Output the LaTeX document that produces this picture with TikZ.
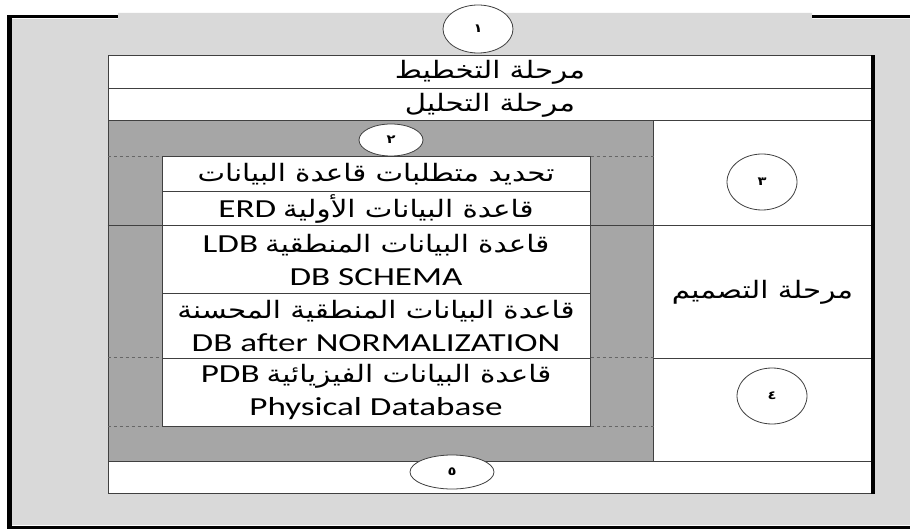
\documentclass[tikz,border=0pt]{standalone}
\usepackage{fontspec}
\usepackage{graphicx}
\newfontfamily\arabicfont[Script=Arabic]{DejaVu Sans}
\newfontfamily\latinfont{Carlito}
\TeXXeTstate=1
\usetikzlibrary{shapes.geometric,positioning}

\definecolor{pagegray}{HTML}{D9D9D9}
\definecolor{bandgray}{HTML}{A6A6A6}
\definecolor{rulegray}{HTML}{404040}

\newcommand{\arx}{1.22}
\newcommand{\latx}{1.35}
\newcommand{\artext}[1]{\scalebox{\arx}[1]{\arabicfont\beginR #1\endR}}
\newcommand{\lattext}[1]{\scalebox{\latx}[1]{\latinfont\fontsize{26}{33}\selectfont #1}}
% latin tag on the left, arabic words on the right
\newcommand{\mixtext}[2]{\lattext{#2}\hspace{7pt}\artext{#1}}

\begin{document}
\begin{tikzpicture}[x=1pt,y=-1pt]

  \tikzstyle{cell}=[draw=rulegray,fill=white,rectangle,line width=1pt,inner sep=0pt,align=center,font=\fontsize{24}{33}\selectfont]
  \tikzstyle{bandbox}=[draw=rulegray,fill=bandgray,rectangle,line width=1pt,inner sep=0pt]
  \tikzstyle{numoval}=[draw=rulegray,fill=white,ellipse,line width=0.8pt,inner sep=0pt,font=\fontsize{12}{12}\selectfont\bfseries]
  \tikzstyle{gap}=[draw=rulegray!80,dashed,line width=1pt]
  \tikzstyle{rule}=[draw=rulegray,line width=1pt]

  \useasboundingbox (0,0) rectangle (910,529);

  % page frame
  \fill[pagegray] (12,19) -- (118,19) -- (118,13) -- (812,13) -- (812,19) -- (910,19) -- (910,525) -- (12,525) -- cycle;
  \draw[black,line width=3pt] (7,17) -- (118,17);
  \draw[black,line width=3pt] (812,17) -- (910,17);
  \draw[black,line width=5pt] (9.5,15.5) -- (9.5,527);
  \draw[black,line width=3pt] (7,527) -- (910,527);

  % outer rows
  \node[cell,minimum width=764pt,minimum height=33pt] (plan) at (490,72.5) {\artext{مرحلة التخطيط}};
  \node[cell,minimum width=764pt,minimum height=32pt] (analysis) at (490,105) {\artext{مرحلة التحليل}};
  \node[bandbox,minimum width=545pt,minimum height=340pt] (band) at (380.5,291) {};
  \node[cell,minimum width=219pt,minimum height=105pt] (side3) at (762.5,173.5) {};
  \node[cell,minimum width=219pt,minimum height=132pt] (design) at (762.5,292) {\artext{مرحلة التصميم}};
  \node[cell,minimum width=219pt,minimum height=103pt] (side4) at (762.5,409.5) {};
  \node[cell,minimum width=764pt,minimum height=32pt] (impl) at (490,477) {};

  % inner steps
  \node[cell,minimum width=428pt,minimum height=35pt] (reqs) at (376,174.5) {\artext{تحديد متطلبات قاعدة البيانات}};
  \node[cell,minimum width=428pt,minimum height=34pt] (erd) at (376,209) {\mixtext{قاعدة البيانات الأولية}{ERD}};
  \node[cell,minimum width=428pt,minimum height=68pt] (ldb) at (376,260) {\mixtext{قاعدة البيانات المنطقية}{LDB}\\\lattext{DB SCHEMA}};
  \node[cell,minimum width=428pt,minimum height=64pt] (norm) at (376,326) {\artext{قاعدة البيانات المنطقية المحسنة}\\\lattext{DB after NORMALIZATION}};
  \node[cell,minimum width=428pt,minimum height=68pt] (pdb) at (376,392) {\mixtext{قاعدة البيانات الفيزيائية}{PDB}\\\lattext{Physical Database}};

  % band edges
  \draw[gap] (band.west |- reqs.north) -- (reqs.north west);
  \draw[gap] (reqs.north east) -- (band.east |- reqs.north);
  \draw[rule] (band.west |- ldb.north) -- (ldb.north west);
  \draw[rule] (ldb.north east) -- (band.east |- ldb.north);
  \draw[gap] (band.west |- pdb.north) -- (pdb.north west);
  \draw[gap] (pdb.north east) -- (band.east |- pdb.north);
  \draw[gap] (band.west |- pdb.south) -- (pdb.south west);
  \draw[gap] (pdb.south east) -- (band.east |- pdb.south);
  \draw[black,line width=4pt] (plan.north east) -- (impl.south east);

  % numbers
  \node[numoval,minimum width=70pt,minimum height=48pt] (n1) at (478,29) {\artext{١}};
  \node[numoval,minimum width=64pt,minimum height=32pt] (n2) at (391,140) {\artext{٢}};
  \node[numoval,minimum width=70pt,minimum height=56pt] (n3) at (762,182) {\artext{٣}};
  \node[numoval,minimum width=70pt,minimum height=56pt] (n4) at (772,396) {\artext{٤}};
  \node[numoval,minimum width=84pt,minimum height=34pt] (n5) at (452,472) {\artext{٥}};

\end{tikzpicture}
\end{document}
